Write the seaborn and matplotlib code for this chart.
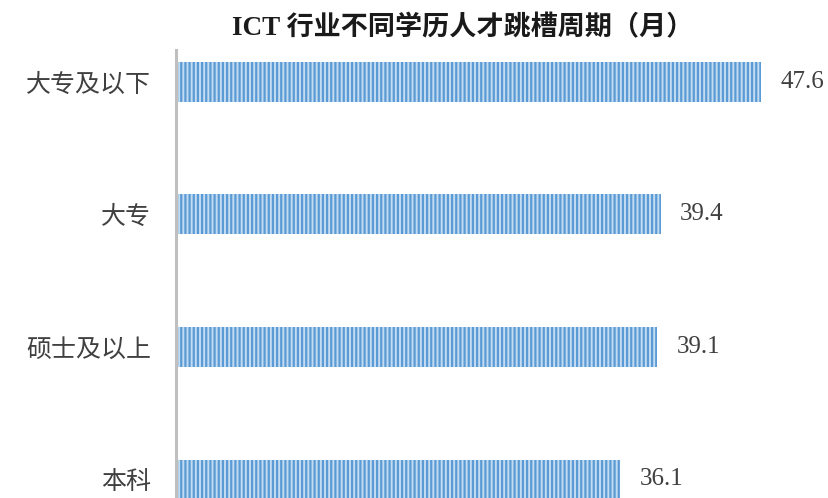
import matplotlib
matplotlib.use("Agg")
import matplotlib.pyplot as plt
import seaborn as sns
import pandas as pd

categories = ["大专及以下", "大专", "硕士及以上", "本科"]
values = [47.6, 39.4, 39.1, 36.1]
title = "ICT 行业不同学历人才跳槽周期（月）"

sns.set_style("white")
plt.rcParams['font.family'] = ['Noto Sans CJK SC', 'DejaVu Sans']
plt.rcParams['hatch.linewidth'] = 1.6

df = pd.DataFrame({"cat": categories, "val": values})

fig = plt.figure(figsize=(8.29, 4.98), dpi=100)
ax = fig.add_axes([176/829, 0, (829-176)/829, 448/498])

sns.barplot(data=df, x="val", y="cat", orient="h", ax=ax, width=0.30,
            color="#c4dcf2", saturation=1)
for p in ax.patches:
    p.set_hatch("||||")
    p.set_edgecolor("#5b9bd5")
    p.set_linewidth(0)

ax.set_xlim(0, 53.1)
ax.set_ylim(3.14, -0.24)

for i, v in enumerate(values):
    ax.annotate(f"{v}", xy=(v, i), xytext=(14, 0), textcoords="offset points",
                ha="left", va="center", fontsize=18, color="#404040",
                family=["Liberation Serif", "DejaVu Serif"])

ax.set_xlabel("")
ax.set_ylabel("")
ax.set_xticks([])
ax.tick_params(axis="y", length=0, pad=18, labelsize=18, labelcolor="#404040")
for s in ["top", "right", "bottom"]:
    ax.spines[s].set_visible(False)
ax.spines["left"].set_color("#bfbfbf")
ax.spines["left"].set_linewidth(2.2)

fig.text(463/829, 1 - 28/498, title, ha="center", va="center", fontsize=19.5,
         fontweight="bold", color="#1a1a1a",
         family=["Liberation Serif", "Noto Sans CJK SC"])

fig.savefig("out.png", dpi=100)
